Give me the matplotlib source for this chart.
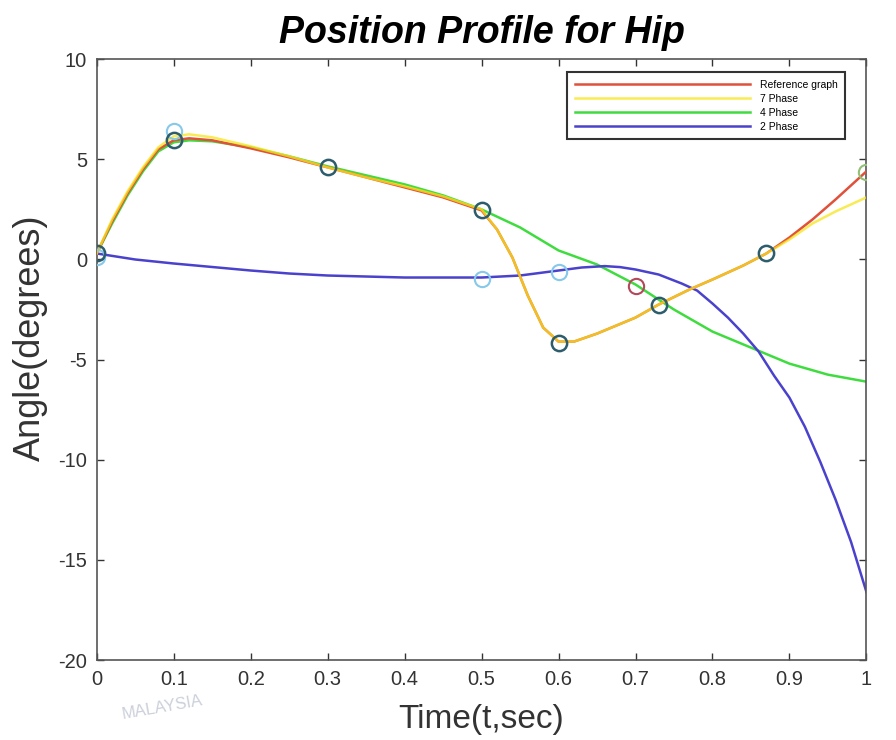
import numpy as np
import matplotlib
matplotlib.use('Agg')
import matplotlib.pyplot as plt

plt.rcParams['font.family'] = ['Liberation Sans', 'DejaVu Sans']
plt.rcParams['axes.unicode_minus'] = False

# curves (time in s, angle in degrees)
t_ref = [0, 0.02, 0.04, 0.06, 0.08, 0.1, 0.12, 0.15, 0.2, 0.25, 0.3, 0.35, 0.4, 0.45,
         0.5, 0.52, 0.54, 0.56, 0.58, 0.6, 0.62, 0.65, 0.7, 0.73, 0.77, 0.8, 0.84,
         0.87, 0.9, 0.93, 0.96, 1.0]
ang_ref = [0.3, 1.9, 3.3, 4.5, 5.5, 5.95, 6.05, 5.95, 5.55, 5.1, 4.6, 4.1, 3.6, 3.1,
           2.45, 1.5, 0.1, -1.8, -3.4, -4.1, -4.1, -3.7, -2.9, -2.25, -1.5, -1.0, -0.3,
           0.3, 1.1, 2.0, 3.0, 4.4]

t_7 = [0, 0.02, 0.04, 0.06, 0.08, 0.1, 0.12, 0.15, 0.2, 0.25, 0.3, 0.35, 0.4, 0.45,
       0.5, 0.52, 0.54, 0.56, 0.58, 0.6, 0.62, 0.65, 0.7, 0.73, 0.77, 0.8, 0.84,
       0.87, 0.9, 0.93, 0.96, 1.0]
ang_7 = [0.3, 2.0, 3.4, 4.6, 5.6, 6.15, 6.25, 6.1, 5.65, 5.15, 4.6, 4.1, 3.65, 3.15,
         2.5, 1.5, 0.1, -1.8, -3.4, -4.1, -4.1, -3.7, -2.9, -2.25, -1.5, -1.0, -0.3,
         0.3, 1.0, 1.8, 2.4, 3.1]

t_4 = [0, 0.02, 0.04, 0.06, 0.08, 0.1, 0.12, 0.15, 0.2, 0.25, 0.3, 0.35, 0.4, 0.45,
       0.5, 0.55, 0.6, 0.65, 0.7, 0.75, 0.8, 0.85, 0.9, 0.95, 1.0]
ang_4 = [0.3, 1.8, 3.2, 4.4, 5.4, 5.85, 5.95, 5.9, 5.6, 5.15, 4.65, 4.2, 3.75, 3.2,
         2.5, 1.6, 0.45, -0.25, -1.25, -2.5, -3.6, -4.4, -5.2, -5.75, -6.1]

t_2 = [0, 0.05, 0.1, 0.2, 0.25, 0.3, 0.4, 0.5, 0.55, 0.6, 0.63, 0.66, 0.68, 0.7, 0.73,
       0.76, 0.78, 0.8, 0.82, 0.84, 0.86, 0.88, 0.9, 0.92, 0.94, 0.96, 0.98, 1.0]
ang_2 = [0.3, 0.0, -0.2, -0.55, -0.7, -0.8, -0.9, -0.9, -0.8, -0.55, -0.4, -0.33, -0.38,
         -0.5, -0.75, -1.2, -1.55, -2.2, -2.9, -3.7, -4.6, -5.8, -6.9, -8.35, -10.1,
         -12.0, -14.1, -16.6]

# circle markers
t_pts = [0, 0.1, 0.3, 0.5, 0.6, 0.73, 0.87]
ang_pts = [0.3, 5.95, 4.6, 2.45, -4.15, -2.25, 0.3]
t_pts_lb = [0, 0.1, 0.5, 0.6]
ang_pts_lb = [0.1, 6.4, -0.95, -0.6]
t_pts_r = [0.7]
ang_pts_r = [-1.3]
t_pts_g = [1.0]
ang_pts_g = [4.35]

labels = ['Reference graph', '7 Phase', '4 Phase', '2 Phase']

fig = plt.figure(figsize=(8.96, 7.40), dpi=100)
ax = fig.add_axes([0.108, 0.108, 0.859, 0.812])

ax.plot(t_ref, ang_ref, color='#e0503a', lw=1.8, zorder=3, label=labels[0])
ax.plot(t_7, ang_7, color='#f7e51a', lw=1.8, alpha=0.75, zorder=4, label=labels[1])
ax.plot(t_4, ang_4, color='#3fdc3f', lw=1.8, zorder=2, label=labels[2])
ax.plot(t_2, ang_2, color='#4a42cc', lw=1.8, zorder=2, label=labels[3])

ax.plot(t_pts_lb, ang_pts_lb, 'o', ms=11, mfc='none', mec='#86c9ea', mew=1.5, zorder=5)
ax.plot(t_pts, ang_pts, 'o', ms=11, mfc='none', mec='#2d5c6c', mew=1.8, zorder=6)
ax.plot(t_pts_r, ang_pts_r, 'o', ms=11, mfc='none', mec='#b2485a', mew=1.5, zorder=6)
ax.plot(t_pts_g, ang_pts_g, 'o', ms=11, mfc='none', mec='#93c075', mew=1.5, zorder=6)

ax.set_xlim(0, 1)
ax.set_ylim(-20, 10)
ax.set_xticks(np.arange(0, 1.01, 0.1))
ax.set_xticklabels(['0', '0.1', '0.2', '0.3', '0.4', '0.5', '0.6', '0.7', '0.8', '0.9', '1'])
ax.set_yticks(np.arange(-20, 11, 5))
ax.tick_params(direction='in', top=True, right=True, length=5, width=1,
               labelsize=14.5, colors='#333333', pad=7)
for s in ax.spines.values():
    s.set_color('#555555')
    s.set_linewidth(1.2)

ax.set_xlabel('Time(t,sec)', fontsize=24, color='#333333', labelpad=11)
ax.set_ylabel('Angle(degrees)', fontsize=26, color='#333333')
ax.yaxis.set_label_coords(-0.064, 0.536)
ax.set_title('Position Profile for Hip', fontsize=27, fontweight='bold', fontstyle='italic',
             pad=12)

leg = ax.legend(loc='upper right', bbox_to_anchor=(0.979, 0.987), fontsize=7.5,
                handlelength=16.8, handletextpad=1.0, labelspacing=0.4, borderpad=0.7,
                fancybox=False, framealpha=1)
leg.get_frame().set_edgecolor('#333333')
leg.get_frame().set_linewidth(1.5)

# faint watermark
fig.text(0.135, 0.028, 'MALAYSIA', fontsize=12, color='#bfc4d2', rotation=10, alpha=0.8)

fig.savefig('out.png', dpi=100)
